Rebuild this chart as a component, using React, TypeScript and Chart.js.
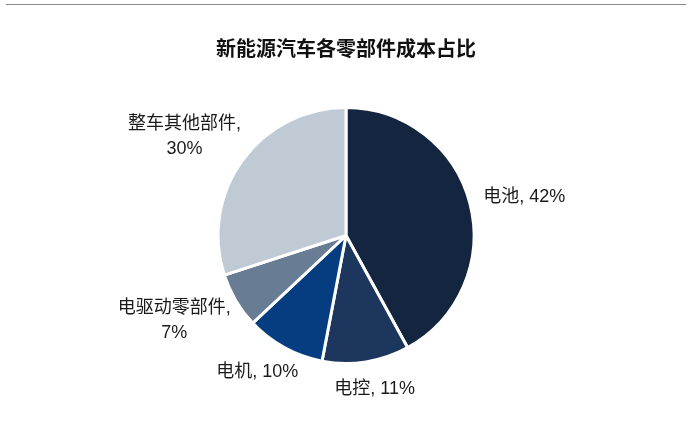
import Chart from "chart.js/auto";
import React, { useEffect, useRef } from "react";

const title = "新能源汽车各零部件成本占比";
const categories = ["电池", "电控", "电机", "电驱动零部件", "整车其他部件"];
const shares = [42, 11, 10, 7, 30];
const colors = ["#13253f", "#1c365e", "#053d80", "#687d93", "#c0cad5"];

const LABEL_FONT = "18px 'Liberation Sans', 'Noto Sans CJK SC', sans-serif";

// draws "name, xx%" outside each slice, wrapping long names onto two lines
const outsideLabels = {
  id: "outsideLabels",
  afterDatasetsDraw(chart: any) {
    const ctx = chart.ctx;
    const meta = chart.getDatasetMeta(0);
    const lineH = 25;
    const gap = 15;
    ctx.save();
    ctx.font = LABEL_FONT;
    ctx.fillStyle = "#1a1a1a";
    ctx.textAlign = "center";
    ctx.textBaseline = "middle";
    meta.data.forEach((arc: any, i: number) => {
      const { x, y, startAngle, endAngle, outerRadius } = arc.getProps(
        ["x", "y", "startAngle", "endAngle", "outerRadius"],
        true
      );
      const name = chart.data.labels[i];
      const val = chart.data.datasets[0].data[i];
      const lines =
        name.length > 4 ? [name + ",", val + "%"] : [name + ", " + val + "%"];
      const w = Math.max(...lines.map((l: string) => ctx.measureText(l).width));
      const h = lines.length * lineH;
      const mid = (startAngle + endAngle) / 2;
      const dx = Math.cos(mid);
      const dy = Math.sin(mid);
      const cx = x + dx * (outerRadius + gap) + (dx * w) / 2;
      const cy = y + dy * (outerRadius + gap) + (dy * h) / 2;
      lines.forEach((l: string, k: number) => {
        ctx.fillText(l, cx, cy - h / 2 + lineH * (k + 0.5));
      });
    });
    ctx.restore();
  },
};

const App: React.FC = () => {
  const chartRef = useRef<HTMLCanvasElement | null>(null);
  const chartInstanceRef = useRef<Chart | null>(null);

  useEffect(() => {
    document.body.style.margin = "0";
    if (chartRef.current) {
      if (chartInstanceRef.current) {
        chartInstanceRef.current.destroy();
      }
      const ctx = chartRef.current.getContext("2d");
      if (ctx) {
        chartInstanceRef.current = new Chart(ctx, {
          type: "pie",
          data: {
            labels: categories,
            datasets: [
              {
                data: shares,
                backgroundColor: colors,
                borderColor: "#ffffff",
                borderWidth: 3,
              },
            ],
          },
          options: {
            responsive: false,
            animation: false,
            layout: {
              padding: { top: 0, bottom: 59, left: 0, right: 0 },
            },
            plugins: {
              legend: { display: false },
              tooltip: { enabled: false },
              title: {
                display: true,
                text: title,
                color: "#111111",
                font: {
                  family: "'Noto Sans CJK SC', sans-serif",
                  size: 20,
                  weight: "bold",
                },
                padding: { top: 36, bottom: 46 },
              },
            },
          },
          plugins: [outsideLabels],
        });
      }
    }

    return () => {
      if (chartInstanceRef.current) {
        chartInstanceRef.current.destroy();
      }
    };
  }, []);

  return (
    <div style={{ position: "relative", width: 692, height: 424, background: "#fff" }}>
      <div
        style={{
          position: "absolute",
          left: 6,
          top: 4,
          width: 680,
          borderTop: "1px solid #8a8a8a",
        }}
      />
      <canvas ref={chartRef} width={692} height={424} />
    </div>
  );
};

export default App;
